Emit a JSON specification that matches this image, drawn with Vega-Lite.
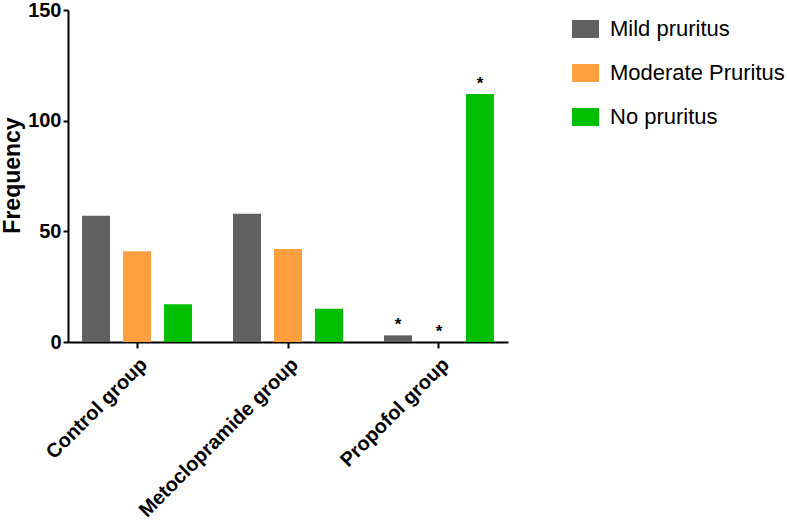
{
  "$schema": "https://vega.github.io/schema/vega-lite/v6.json",
  "width": 440,
  "height": 332,
  "autosize": {"type": "none"},
  "padding": {"left": 68, "top": 10, "right": 279, "bottom": 186},
  "background": "white",
  "config": {"view": {"stroke": null}, "font": "Liberation Sans"},
  "data": {
    "values": [
      {"group": "Control group", "severity": "Mild pruritus", "count": 57, "sig": ""},
      {"group": "Control group", "severity": "Moderate Pruritus", "count": 41, "sig": ""},
      {"group": "Control group", "severity": "No pruritus", "count": 17, "sig": ""},
      {"group": "Metoclopramide group", "severity": "Mild pruritus", "count": 58, "sig": ""},
      {"group": "Metoclopramide group", "severity": "Moderate Pruritus", "count": 42, "sig": ""},
      {"group": "Metoclopramide group", "severity": "No pruritus", "count": 15, "sig": ""},
      {"group": "Propofol group", "severity": "Mild pruritus", "count": 3, "sig": "*"},
      {"group": "Propofol group", "severity": "Moderate Pruritus", "count": 0, "sig": "*"},
      {"group": "Propofol group", "severity": "No pruritus", "count": 112, "sig": "*"}
    ]
  },
  "encoding": {
    "x": {
      "field": "group", "type": "nominal",
      "sort": ["Control group", "Metoclopramide group", "Propofol group"],
      "scale": {"paddingInner": 0.2715, "paddingOuter": 0.093},
      "axis": {
        "title": null, "labelAngle": -45, "labelFontSize": 20, "labelFontWeight": "bold",
        "labelColor": "black", "labelPadding": 6, "labelLimit": 400, "domainColor": "black", "domainWidth": 2,
        "tickColor": "black", "tickWidth": 2, "tickSize": 6
      }
    },
    "xOffset": {
      "field": "severity", "type": "nominal",
      "sort": ["Mild pruritus", "Moderate Pruritus", "No pruritus"],
      "scale": {"paddingInner": 0.317, "paddingOuter": 0}
    },
    "y": {
      "field": "count", "type": "quantitative",
      "scale": {"domain": [0, 150], "nice": false},
      "axis": {
        "title": "Frequency", "titleFontSize": 23, "titleFontWeight": "bold", "titleColor": "black",
        "titleX": -56, "titleY": 165, "titleBaseline": "middle", "titleAlign": "center", "titleAngle": -90,
        "values": [0, 50, 100, 150], "grid": false,
        "labelFontSize": 20, "labelFontWeight": "bold", "labelColor": "black", "labelPadding": 2,
        "domainColor": "black", "domainWidth": 2, "tickColor": "black", "tickWidth": 2, "tickSize": 5
      }
    }
  },
  "layer": [
    {
      "mark": {"type": "bar"},
      "encoding": {
        "color": {
          "field": "severity", "type": "nominal",
          "sort": ["Mild pruritus", "Moderate Pruritus", "No pruritus"],
          "scale": {"domain": ["Mild pruritus", "Moderate Pruritus", "No pruritus"], "range": ["#606060", "#FFA040", "#00BF00"]},
          "legend": {
            "title": null, "orient": "none", "legendX": 506.5, "legendY": 8,
            "symbolType": "M-1.5,-1H1.5V1H-1.5Z", "symbolSize": 324, "symbolStrokeWidth": 0, "symbolOpacity": 1,
            "labelFontSize": 22, "labelColor": "black", "labelOffset": 13.5, "labelLimit": 400, "rowPadding": 22
          }
        }
      }
    },
    {
      "mark": {"type": "text", "dy": -10, "fontSize": 17, "fontWeight": "bold", "baseline": "middle", "color": "black"},
      "encoding": {"text": {"field": "sig"}}
    }
  ]
}
